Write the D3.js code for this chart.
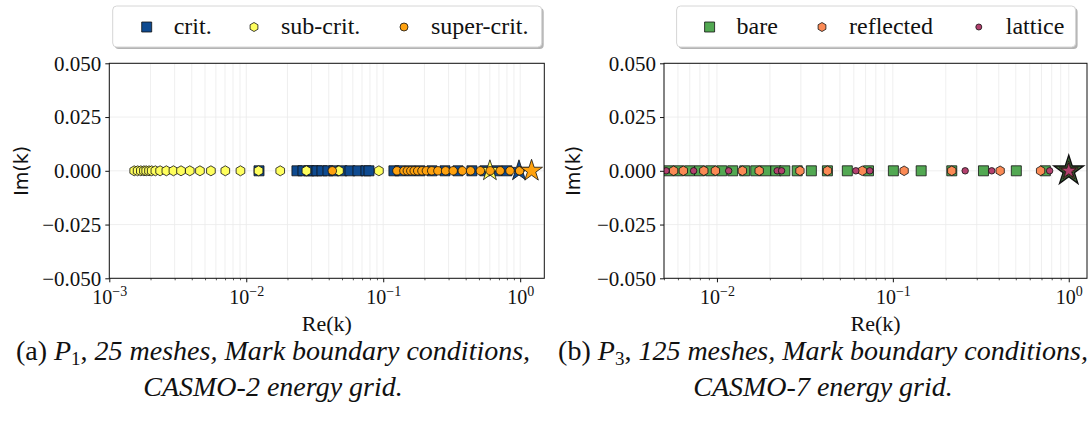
<!DOCTYPE html>
<html>
<head>
<meta charset="utf-8">
<script src="https://cdn.jsdelivr.net/npm/d3@7"></script>
<style>
  html, body { margin: 0; padding: 0; background: #fff; }
  svg { display: block; }
</style>
</head>
<body>
<svg id="fig" width="1092" height="432"></svg>
<script>
// ---------------- data: eigenvalues k = Re(k) + i Im(k) ----------------
// Panel (a): P1, 25 meshes, CASMO-2 energy grid (all eigenvalues real, Im(k) = 0)
const critRe = [0.01239, 0.02344, 0.02594, 0.0287, 0.0307, 0.0328, 0.0357, 0.0395,
  0.0437, 0.05, 0.0572, 0.0654, 0.0748, 0.0787, 0.1197, 0.1324, 0.1567, 0.1854,
  0.227, 0.2825, 0.3515, 0.444, 0.5525, 0.6761, 0.7998];
const subRe = [0.00152, 0.00161, 0.0017, 0.00179, 0.00186, 0.00195, 0.00204, 0.00217,
  0.00235, 0.00261, 0.00294, 0.00334, 0.00387, 0.00459, 0.00552, 0.00703, 0.00907,
  0.0123, 0.0177, 0.0275, 0.0475, 0.093];
const superRe = [0.0425, 0.1259, 0.1416, 0.15, 0.159, 0.1683, 0.1786, 0.1917, 0.2066,
  0.2259, 0.2507, 0.2853, 0.3241, 0.3779, 0.4345, 0.512, 0.6039, 0.7145, 0.843, 0.9913];
// dominant eigenvalue of each configuration (drawn as a star)
const critDominant = 0.98;
const subDominant = 0.601;
const superDominant = 1.211;

// Panel (b): P3, 125 meshes, CASMO-7 energy grid
const bareRe = [0.00531, 0.00605, 0.00698, 0.00797, 0.00921, 0.01064, 0.01229, 0.01438,
  0.01662, 0.01894, 0.0216, 0.02432, 0.0286, 0.03442, 0.04246, 0.0551, 0.0727, 0.1007,
  0.1449, 0.2163, 0.3275, 0.5035, 0.7362];
const reflectedRe = [0.00567, 0.00644, 0.00842, 0.0098, 0.01395, 0.01738, 0.02964,
  0.0425, 0.067, 0.1159, 0.2163, 0.4074, 0.6918];
const latticeRe = [0.00514, 0.00737, 0.01166, 0.022, 0.0233, 0.0616, 0.074, 0.2577,
  0.3648, 0.7786];
const bareDominant = 1.0;
const reflectedDominant = 1.0;
const latticeDominant = 1.0;

// axis ticks
const imTicks = [-0.05, -0.025, 0, 0.025, 0.05];
const leftDecades = [-3, -2, -1, 0];
const rightDecades = [-2, -1, 0];

// ---------------- drawing ----------------
const svg = d3.select("#fig");
svg.append("rect").attr("width", 1092).attr("height", 432).attr("fill", "#fff");

const SERIF = "'Liberation Serif', 'Times New Roman', serif";
const SANS = "'DejaVu Sans', sans-serif";

// pointy-top hexagon symbol (area-based size like d3 symbols)
const symbolHexagon = {
  draw(ctx, size) {
    const r = Math.sqrt(size / (1.5 * Math.sqrt(3)));
    for (let i = 0; i < 6; i++) {
      const a = -Math.PI / 2 + i * Math.PI / 3;
      const px = r * Math.cos(a), py = r * Math.sin(a);
      if (i === 0) ctx.moveTo(px, py); else ctx.lineTo(px, py);
    }
    ctx.closePath();
  }
};
const shape = {
  square: side => d3.symbol(d3.symbolSquare, side * side)(),
  circle: diam => d3.symbol(d3.symbolCircle, Math.PI * diam * diam / 4)(),
  hexagon: rad => d3.symbol(symbolHexagon, 1.5 * Math.sqrt(3) * rad * rad)(),
  star: rad => d3.symbol(d3.symbolStar, rad * rad / 0.8908130915)()
};

function drawPanel(cfg) {
  const g = svg.append("g");
  const x = d3.scaleLog().domain(cfg.xDomain).range([cfg.x0, cfg.x1]);
  const y = d3.scaleLinear().domain([-0.05, 0.05]).range([cfg.y1, cfg.y0]);

  const majors = cfg.decades.map(e => Math.pow(10, e));
  const minors = [];
  cfg.decades.concat([cfg.decades[0] - 1]).forEach(e => {
    for (let m = 2; m <= 9; m++) {
      const v = m * Math.pow(10, e);
      if (v >= cfg.xDomain[0] && v <= cfg.xDomain[1]) minors.push(v);
    }
  });

  // grid
  const grid = g.append("g").attr("stroke", "#ebebeb").attr("stroke-width", 0.8);
  grid.selectAll("line.vx").data(majors.concat(minors)).join("line")
    .attr("x1", d => x(d)).attr("x2", d => x(d))
    .attr("y1", cfg.y0).attr("y2", cfg.y1);
  grid.selectAll("line.hy").data(imTicks).join("line")
    .attr("x1", cfg.x0).attr("x2", cfg.x1)
    .attr("y1", d => y(d)).attr("y2", d => y(d));

  // clip for markers
  const clipId = "clip-" + cfg.id;
  svg.append("clipPath").attr("id", clipId).append("rect")
    .attr("x", cfg.x0).attr("y", cfg.y0)
    .attr("width", cfg.x1 - cfg.x0).attr("height", cfg.y1 - cfg.y0);
  const marks = g.append("g").attr("clip-path", `url(#${clipId})`);

  cfg.series.forEach(s => {
    marks.append("g").selectAll("path").data(s.re).join("path")
      .attr("d", shape[s.shape](s.size))
      .attr("transform", d => `translate(${x(d)},${y(s.im)})`)
      .attr("fill", s.color).attr("stroke", "#111").attr("stroke-width", 0.8);
    marks.append("path")
      .attr("d", shape.star(s.starSize))
      .attr("transform", `translate(${x(s.dominant)},${y(s.im)})`)
      .attr("fill", s.starColor || s.color).attr("stroke", "#111")
      .attr("stroke-width", s.starStroke || 0.8);
  });

  // axes
  const fmtIm = d3.format(".3f");
  const yAxis = g.append("g").attr("transform", `translate(${cfg.x0},0)`)
    .call(d3.axisLeft(y).tickValues(imTicks).tickFormat(fmtIm).tickSize(4).tickPadding(4));
  yAxis.select(".domain").remove();
  yAxis.selectAll("text").attr("font-family", SERIF).attr("font-size", 21)
    .attr("fill", "#111").attr("dy", "0.32em");
  yAxis.selectAll("line").attr("stroke", "#111");

  const xAxis = g.append("g").attr("transform", `translate(0,${cfg.y1})`)
    .call(d3.axisBottom(x).tickValues(majors).tickSize(4).tickPadding(3).tickFormat(""));
  xAxis.select(".domain").remove();
  xAxis.selectAll("line").attr("stroke", "#111");
  xAxis.selectAll(".tick").each(function (d) {
    const t = d3.select(this).append("text")
      .attr("y", 25.5).attr("text-anchor", "middle")
      .attr("font-family", SERIF).attr("font-size", 20).attr("fill", "#111");
    const e = Math.round(Math.log10(d));
    t.append("tspan").text("10");
    t.append("tspan").attr("font-size", 14).attr("dy", -7.5)
      .text(e < 0 ? "\u2212" + (-e) : String(e));
  });
  const xMinor = g.append("g").attr("transform", `translate(0,${cfg.y1})`)
    .call(d3.axisBottom(x).tickValues(minors).tickSize(2).tickFormat(""));
  xMinor.select(".domain").remove();
  xMinor.selectAll("line").attr("stroke", "#111").attr("stroke-width", 0.7);

  // frame
  g.append("rect").attr("x", cfg.x0).attr("y", cfg.y0)
    .attr("width", cfg.x1 - cfg.x0).attr("height", cfg.y1 - cfg.y0)
    .attr("fill", "none").attr("stroke", "#111").attr("stroke-width", 1);

  // axis labels
  g.append("text").attr("x", (cfg.x0 + cfg.x1) / 2).attr("y", 331)
    .attr("text-anchor", "middle").attr("font-family", SERIF).attr("font-size", 22)
    .attr("fill", "#111").text("Re(k)");
  g.append("text")
    .attr("transform", `translate(${cfg.imLabelX},${y(0)}) rotate(-90)`)
    .attr("text-anchor", "middle").attr("dy", "0.36em")
    .attr("font-family", SANS).attr("font-size", 19).attr("fill", "#111").text("Im(k)");

  // legend
  const L = cfg.legend;
  const lg = g.append("g");
  lg.append("rect").attr("x", L.x + 2).attr("y", L.y + 2).attr("width", L.w).attr("height", L.h)
    .attr("rx", 4).attr("fill", "#b4b4b4");
  lg.append("rect").attr("x", L.x).attr("y", L.y).attr("width", L.w).attr("height", L.h)
    .attr("rx", 4).attr("fill", "#fff").attr("stroke", "#d6d6d6").attr("stroke-width", 1);
  cfg.series.forEach((s, i) => {
    const mx = L.items[i];
    lg.append("path").attr("d", shape[s.shape](s.legendSize))
      .attr("transform", `translate(${mx},${L.y + 21})`)
      .attr("fill", s.color).attr("stroke", "#111").attr("stroke-width", 0.8);
    lg.append("text").attr("x", mx + 27).attr("y", L.y + 28)
      .attr("font-family", SERIF).attr("font-size", 24).attr("fill", "#111").text(s.name);
  });
}

drawPanel({
  id: "a", x0: 109.3, x1: 544.3, y0: 63.3, y1: 278.3,
  xDomain: [1e-3, 1.5], decades: leftDecades, imLabelX: 20.7,
  legend: { x: 112.7, y: 6, w: 429, h: 41, items: [146.7, 254, 404] },
  series: [
    { name: "crit.", re: critRe, im: 0, dominant: critDominant, shape: "square", size: 10,
      legendSize: 10, color: "#0e4a90", starSize: 11 },
    { name: "sub-crit.", re: subRe, im: 0, dominant: subDominant, shape: "hexagon", size: 5,
      legendSize: 4.5, color: "#ffff5e", starSize: 11 },
    { name: "super-crit.", re: superRe, im: 0, dominant: superDominant, shape: "circle", size: 8.5,
      legendSize: 8, color: "#ffa20f", starSize: 11.5 }
  ]
});

drawPanel({
  id: "b", x0: 664, x1: 1087, y0: 63.3, y1: 278.3,
  xDomain: [5e-3, 1.27], decades: rightDecades, imLabelX: 573.3,
  legend: { x: 676.6, y: 6, w: 399, h: 41, items: [709.6, 822, 978.8] },
  series: [
    { name: "bare", re: bareRe, im: 0, dominant: bareDominant, shape: "square", size: 10,
      legendSize: 10, color: "#52a852", starSize: 15.5, starColor: "#3f6f39", starStroke: 1.4 },
    { name: "reflected", re: reflectedRe, im: 0, dominant: reflectedDominant, shape: "hexagon", size: 4.8,
      legendSize: 4.5, color: "#fb8a55", starSize: 10 },
    { name: "lattice", re: latticeRe, im: 0, dominant: latticeDominant, shape: "circle", size: 6.5,
      legendSize: 6, color: "#b3406e", starSize: 8 }
  ]
});

// captions
function caption(cx, label, sub, rest, line2) {
  const t1 = svg.append("text").attr("x", cx).attr("y", 360).attr("text-anchor", "middle")
    .attr("font-family", SERIF).attr("font-size", 28).attr("fill", "#111");
  t1.append("tspan").text(label + " ");
  t1.append("tspan").attr("font-style", "italic").text("P");
  t1.append("tspan").attr("font-size", 19).attr("dy", 5).text(sub);
  t1.append("tspan").attr("dy", -5).text(",");
  t1.append("tspan").attr("font-style", "italic").text(" " + rest);
  svg.append("text").attr("x", cx).attr("y", 396).attr("text-anchor", "middle")
    .attr("font-family", SERIF).attr("font-size", 28).attr("font-style", "italic")
    .attr("fill", "#111").text(line2);
}
caption(273, "(a)", "1", "25 meshes, Mark boundary conditions,", "CASMO-2 energy grid.");
caption(823, "(b)", "3", "125 meshes, Mark boundary conditions,", "CASMO-7 energy grid.");
</script>
</body>
</html>
